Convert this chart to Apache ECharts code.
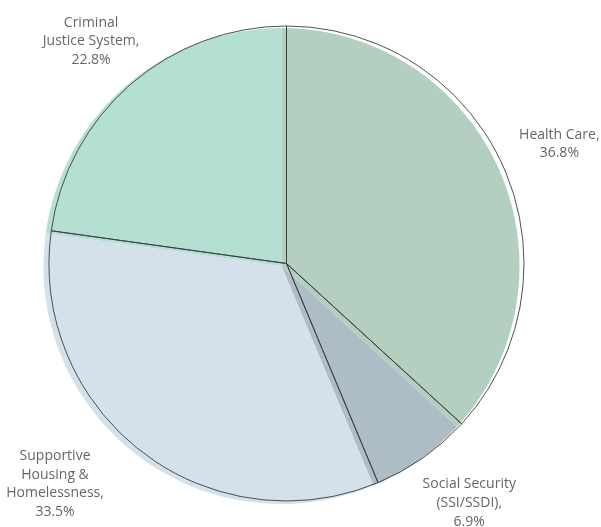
<!DOCTYPE html>
<html>
<head>
<meta charset="utf-8">
<script src="https://cdn.jsdelivr.net/npm/echarts@6/dist/echarts.min.js"></script>
<style>
  html, body { margin: 0; padding: 0; background: #fff; }
  #chart { width: 601px; height: 527px; }
</style>
</head>
<body>
<div id="chart"></div>
<script>
// Spending shares by category (percent)
const categories = [
  'Health Care,',
  'Social Security\n(SSI/SSDI),',
  'Supportive\nHousing &\nHomelessness,',
  'Criminal\nJustice System,'
];
const shares = [36.8, 6.9, 33.5, 22.8];
const shareLabels = ['36.8%', '6.9%', '33.5%', '22.8%'];

const fills = ['#b3cfbf', '#aebcc6', '#d5e1ea', '#b3e0d3'];
// small nudges so each label box sits clear of the rim
const labelNudge = [[-1, 2], [12, -9], [-43, -20], [7, 6]];

const chart = echarts.init(document.getElementById('chart'), null, { renderer: 'canvas' });

const filled = categories.map((c, i) => ({
  name: c, value: shares[i], itemStyle: { color: fills[i] }
}));
const outlined = categories.map((c, i) => ({ name: c, value: shares[i] }));
const labelled = categories.map((c, i) => ({
  name: c, value: shares[i], pct: shareLabels[i]
}));

chart.setOption({
  animation: false,
  backgroundColor: '#ffffff',
  series: [
    {
      // coloured slices, set slightly left and down
      type: 'pie',
      center: [281.5, 266],
      radius: 238,
      startAngle: 90,
      clockwise: true,
      silent: true,
      label: { show: false },
      labelLine: { show: false },
      itemStyle: { borderWidth: 0 },
      data: filled,
      z: 1
    },
    {
      // thin dark slice outlines
      type: 'pie',
      center: [286.5, 263.5],
      radius: 237.5,
      startAngle: 90,
      clockwise: true,
      silent: true,
      label: { show: false },
      labelLine: { show: false },
      itemStyle: { color: 'rgba(0,0,0,0)', borderColor: '#3d3d3d', borderWidth: 0.9 },
      data: outlined,
      z: 2
    },
    {
      // invisible ring that carries the category labels
      type: 'pie',
      center: [283, 264],
      radius: [290, 310],
      startAngle: 90,
      clockwise: true,
      silent: true,
      itemStyle: { color: 'rgba(0,0,0,0)' },
      labelLine: { show: false },
      label: {
        show: true,
        position: 'inside',
        rotate: 0,
        align: 'center',
        color: '#666666',
        fontFamily: 'Open Sans',
        fontSize: 14,
        lineHeight: 18.7,
        formatter: p => p.name + '\n' + p.data.pct
      },
      labelLayout: p => ({ dx: labelNudge[p.dataIndex][0], dy: labelNudge[p.dataIndex][1] }),
      data: labelled,
      z: 3
    }
  ]
});
</script>
</body>
</html>
